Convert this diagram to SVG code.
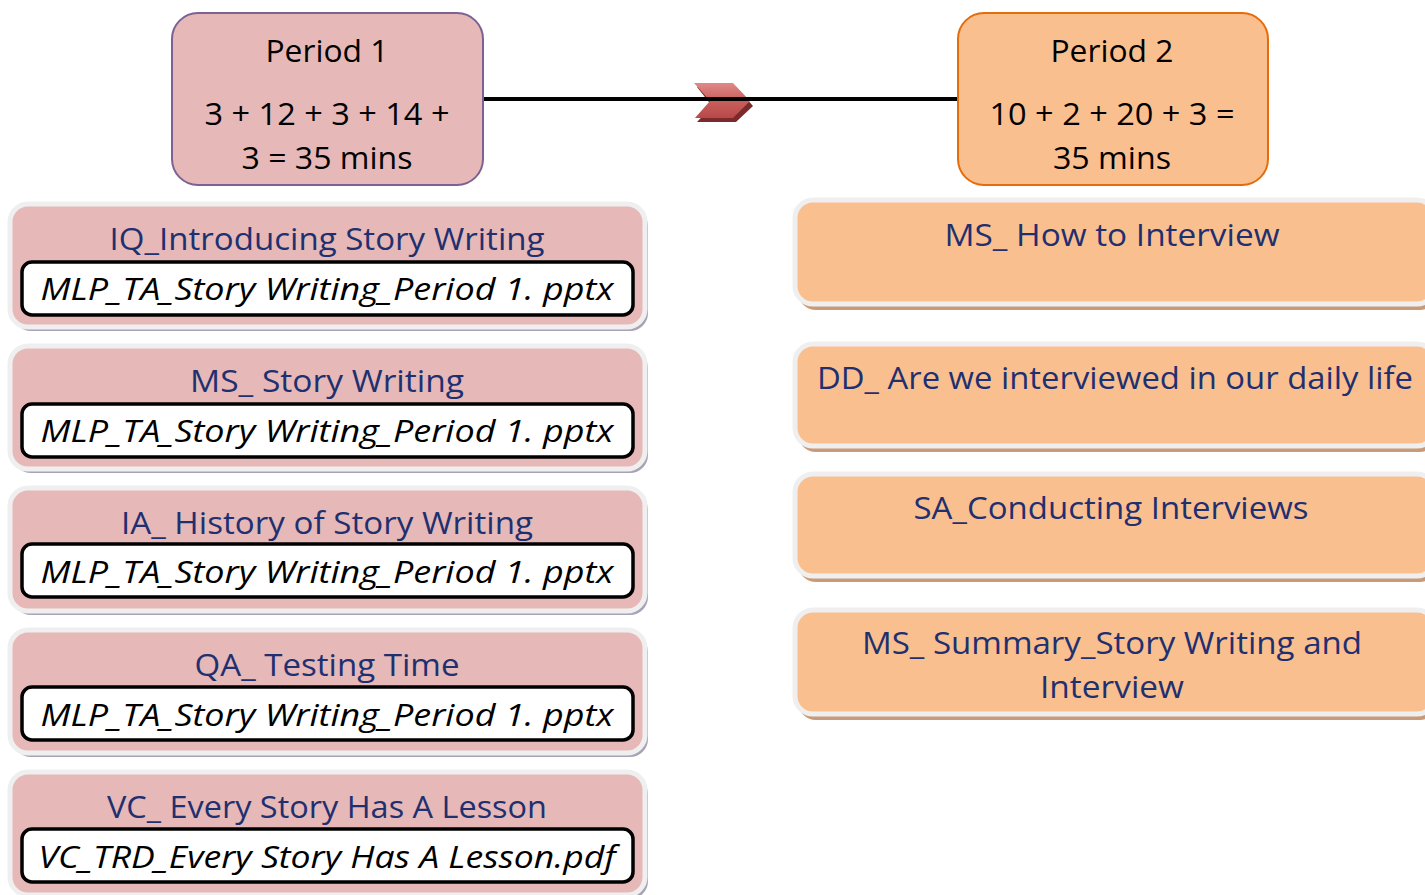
<svg xmlns="http://www.w3.org/2000/svg" width="1425" height="895" viewBox="0 0 1425 895">
<defs>
<style>
.t{font-family:"Open Sans","Liberation Sans",sans-serif;font-size:31px;text-anchor:middle;}
.blk{fill:#000;}
.nav{fill:#1f3070;}
.it{font-style:italic;fill:#000;}
.lbox{fill:#e6b8b7;stroke:#efefef;stroke-width:5;}
.lsh{fill:#a9a2b6;}
.rbox{fill:#fabf8f;stroke:#efefef;stroke-width:5;}
.rsh{fill:#c99a79;}
.file{fill:#fff;stroke:#000;stroke-width:3.5;}
</style>
<linearGradient id="chev" x1="0" y1="0" x2="0" y2="1">
<stop offset="0" stop-color="#e08a88"/>
<stop offset="0.5" stop-color="#c9605d"/>
<stop offset="1" stop-color="#b8484a"/>
</linearGradient>
</defs>

<g id="connectors">
<polygon points="697,87 736,87 753,106 736,122 697,122 712,106" fill="#7a2a2a"/>
<polygon points="694,83 733,83 750,101 733,118 695,118 710,101" fill="url(#chev)"/>
<line x1="483" y1="99" x2="958" y2="99" stroke="#000" stroke-width="4"/>
</g>

<g id="period1">
<rect x="172" y="13" width="311" height="172" rx="26" fill="#e6b8b7" stroke="#7b6292" stroke-width="2"/>
<text class="t blk" x="327" y="62" textLength="123" lengthAdjust="spacingAndGlyphs">Period 1</text>
<text class="t blk" x="327" y="125" textLength="245" lengthAdjust="spacingAndGlyphs">3 + 12 + 3 + 14 +</text>
<text class="t blk" x="327" y="169" textLength="171" lengthAdjust="spacingAndGlyphs">3 = 35 mins</text>
</g>

<g id="period2">
<rect x="958" y="13" width="310" height="172" rx="26" fill="#fabf8f" stroke="#e46c0a" stroke-width="2"/>
<text class="t blk" x="1112" y="62" textLength="123" lengthAdjust="spacingAndGlyphs">Period 2</text>
<text class="t blk" x="1112" y="125" textLength="245" lengthAdjust="spacingAndGlyphs">10 + 2 + 20 + 3 =</text>
<text class="t blk" x="1112" y="169" textLength="118" lengthAdjust="spacingAndGlyphs">35 mins</text>
</g>

<g id="l1">
<rect class="lsh" x="13" y="208" width="635" height="123" rx="18"/>
<rect class="lbox" x="10" y="204" width="635" height="123" rx="18"/>
<text class="t nav" x="327" y="250" textLength="435" lengthAdjust="spacingAndGlyphs">IQ_Introducing Story Writing</text>
<rect class="file" x="22" y="262" width="611" height="53" rx="10"/>
<text class="t it" x="327" y="300" textLength="573" lengthAdjust="spacingAndGlyphs">MLP_TA_Story Writing_Period 1. pptx</text>
</g>

<g id="l2">
<rect class="lsh" x="13" y="350" width="635" height="123" rx="18"/>
<rect class="lbox" x="10" y="346" width="635" height="123" rx="18"/>
<text class="t nav" x="327" y="392" textLength="274" lengthAdjust="spacingAndGlyphs">MS_ Story Writing</text>
<rect class="file" x="22" y="404" width="611" height="53" rx="10"/>
<text class="t it" x="327" y="442" textLength="573" lengthAdjust="spacingAndGlyphs">MLP_TA_Story Writing_Period 1. pptx</text>
</g>

<g id="l3">
<rect class="lsh" x="13" y="492" width="635" height="123" rx="18"/>
<rect class="lbox" x="10" y="488" width="635" height="123" rx="18"/>
<text class="t nav" x="327" y="534" textLength="412" lengthAdjust="spacingAndGlyphs">IA_ History of Story Writing</text>
<rect class="file" x="22" y="544" width="611" height="53" rx="10"/>
<text class="t it" x="327" y="583" textLength="573" lengthAdjust="spacingAndGlyphs">MLP_TA_Story Writing_Period 1. pptx</text>
</g>

<g id="l4">
<rect class="lsh" x="13" y="634" width="635" height="123" rx="18"/>
<rect class="lbox" x="10" y="630" width="635" height="123" rx="18"/>
<text class="t nav" x="327" y="676" textLength="265" lengthAdjust="spacingAndGlyphs">QA_ Testing Time</text>
<rect class="file" x="22" y="687" width="611" height="53" rx="10"/>
<text class="t it" x="327" y="726" textLength="573" lengthAdjust="spacingAndGlyphs">MLP_TA_Story Writing_Period 1. pptx</text>
</g>

<g id="l5">
<rect class="lsh" x="13" y="776" width="635" height="123" rx="18"/>
<rect class="lbox" x="10" y="772" width="635" height="123" rx="18"/>
<text class="t nav" x="327" y="818" textLength="440" lengthAdjust="spacingAndGlyphs">VC_ Every Story Has A Lesson</text>
<rect class="file" x="22" y="829" width="611" height="53" rx="10"/>
<text class="t it" x="327" y="868" textLength="577" lengthAdjust="spacingAndGlyphs">VC_TRD_Every Story Has A Lesson.pdf</text>
</g>

<g id="r1">
<rect class="rsh" x="798" y="205" width="640" height="105" rx="18"/>
<rect class="rbox" x="795" y="200" width="640" height="104" rx="18"/>
<text class="t nav" x="1112" y="246" textLength="335" lengthAdjust="spacingAndGlyphs">MS_ How to Interview</text>
</g>

<g id="r2">
<rect class="rsh" x="798" y="348" width="640" height="104" rx="18"/>
<rect class="rbox" x="795" y="344" width="640" height="102" rx="18"/>
<text class="t nav" x="1115" y="389" textLength="596" lengthAdjust="spacingAndGlyphs">DD_ Are we interviewed in our daily life</text>
</g>

<g id="r3">
<rect class="rsh" x="798" y="478" width="640" height="104" rx="18"/>
<rect class="rbox" x="795" y="474" width="640" height="102" rx="18"/>
<text class="t nav" x="1111" y="519" textLength="395" lengthAdjust="spacingAndGlyphs">SA_Conducting Interviews</text>
</g>

<g id="r4">
<rect class="rsh" x="798" y="614" width="640" height="106" rx="18"/>
<rect class="rbox" x="795" y="610" width="640" height="104" rx="18"/>
<text class="t nav" x="1112" y="654" textLength="500" lengthAdjust="spacingAndGlyphs">MS_ Summary_Story Writing and</text>
<text class="t nav" x="1112" y="698" textLength="144" lengthAdjust="spacingAndGlyphs">Interview</text>
</g>
</svg>
